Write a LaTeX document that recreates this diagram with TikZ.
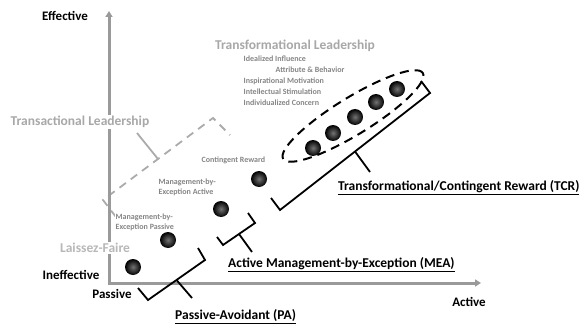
\documentclass[tikz,border=0pt]{standalone}
\usepackage{fontspec}
\setmainfont{Carlito}
\usetikzlibrary{arrows.meta,shapes.geometric}
\definecolor{axisgray}{HTML}{9A9A9A}
\definecolor{biggray}{HTML}{A8A8A8}
\definecolor{lightgray2}{HTML}{B8B8B8}
\definecolor{smallgray}{HTML}{858585}
\definecolor{dashgray}{HTML}{ABABAB}
\tikzset{
  axisline/.style={draw=axisgray, line width=3pt, -{Triangle[width=7pt,length=6pt]}},
  dot/.style={circle, minimum size=16pt, inner sep=0pt, inner color=black!55, outer color=black},
  bracketline/.style={draw=black, line width=1.8pt, line join=miter},
  graybracket/.style={draw=dashgray, line width=1.8pt, dash pattern=on 8pt off 6pt},
  axlabel/.style={font=\bfseries\fontsize{13}{15}\selectfont, text=black, inner sep=1pt},
  biglabel/.style={font=\bfseries\fontsize{13.5}{15}\selectfont, text=biggray, fill=white, inner sep=1pt},
  smalllabel/.style={font=\bfseries\fontsize{8}{10}\selectfont, text=smallgray, inner sep=0.5pt},
  grouplabel/.style={font=\bfseries\fontsize{13.5}{15}\selectfont, text=black, inner sep=1pt},
}
\begin{document}
\begin{tikzpicture}[x=1pt,y=-1pt]
\useasboundingbox (0,0) rectangle (580,326);

% gray dashed bracket (transactional)
\coordinate (gL) at (103,200);
\coordinate (gR) at (213,118);
\coordinate (gLt) at (116,217);
\coordinate (gRt) at (230,135);
\coordinate (gM) at (158,159);
\coordinate (gMt) at (137,133);
\draw[graybracket] (gLt) -- (gL) -- (gR) -- (gRt);
\draw[draw=dashgray, line width=1.8pt] (gM) -- (gMt);

% axes
\coordinate (origin) at (109,283);
\coordinate (ytip) at (109,11);
\coordinate (xtip) at (481,283);
\draw[axisline] (origin) -- (ytip);
\draw[axisline] ([xshift=-1.5pt]origin) -- (xtip);

% axis labels
\node[axlabel] (eff) at (65,16) {Effective};
\node[axlabel] (ineff) at (71,275) {Ineffective};
\node[axlabel] (pass) at (112,294) {Passive};
\node[axlabel] (act) at (469,302) {Active};

% gray category labels
\node[biglabel] (transl) at (80,122) {Transactional Leadership};
\node[biglabel, text=lightgray2] (laissez) at (95,248) {Laissez-Faire};
\node[biglabel] (transf) at (295,46) {Transformational Leadership};

\node[smalllabel, anchor=west] (ii) at (243,59) {Idealized Influence};
\node[smalllabel, anchor=west] (ab) at (275,70) {Attribute \& Behavior};
\node[smalllabel, anchor=west] (im) at (243,81) {Inspirational Motivation};
\node[smalllabel, anchor=west] (is) at (243,92) {Intellectual Stimulation};
\node[smalllabel, anchor=west] (ic) at (243,103) {Individualized Concern};

\node[smalllabel, anchor=west] (cr) at (201,160) {Contingent Reward};
\node[smalllabel, anchor=west, align=left, fill=white] (mea) at (158,187) {Management-by-\\Exception Active};
\node[smalllabel, anchor=west, align=left, fill=white] (mep) at (115,222) {Management-by-\\Exception Passive};

% dots
\node[dot] (d1) at (133,267) {};
\node[dot] (d2) at (168,240) {};
\node[dot] (d3) at (221,209) {};
\node[dot] (d4) at (259,179) {};
\node[dot] (t1) at (313,148) {};
\node[dot] (t2) at (333,133) {};
\node[dot] (t3) at (355,117) {};
\node[dot] (t4) at (376,102) {};
\node[dot] (t5) at (397,89) {};

% dashed ellipse
\node[ellipse, draw=black, line width=2pt, dash pattern=on 9pt off 6pt, rotate=31.6,
      minimum width=164pt, minimum height=37pt, inner sep=0pt] (ell) at (353,116) {};

% TCR bracket
\coordinate (tAt) at (271,198);
\coordinate (tA) at (280,210);
\coordinate (tB) at (430,93);
\coordinate (tBt) at (421,81);
\coordinate (tM) at (355,151.5);
\coordinate (tMt) at (370,172);
\draw[bracketline] (tAt) -- (tA) -- (tB) -- (tBt);
\draw[bracketline] (tM) -- (tMt);

% MEA bracket
\coordinate (mAt) at (217,237);
\coordinate (mA) at (223,245);
\coordinate (mB) at (255,223);
\coordinate (mBt) at (248,213);
\coordinate (mM) at (239,234);
\coordinate (mMt) at (252,252);
\draw[bracketline] (mAt) -- (mA) -- (mB) -- (mBt);
\draw[bracketline] (mM) -- (mMt);

% PA bracket
\coordinate (pAt) at (138,288);
\coordinate (pA) at (148,300);
\coordinate (pB) at (205,260);
\coordinate (pBt) at (198,248);
\coordinate (pM) at (176.5,280);
\coordinate (pMt) at (192,298);
\draw[bracketline] (pAt) -- (pA) -- (pB) -- (pBt);
\draw[bracketline] (pM) -- (pMt);

% group labels
\node[grouplabel, anchor=west] (tcr) at (337,188) {\underline{Transformational/Contingent Reward (TCR)}};
\node[grouplabel, anchor=west] (meal) at (227,265) {\underline{Active Management-by-Exception (MEA)}};
\node[grouplabel, anchor=west] (pal) at (174,317) {\underline{Passive-Avoidant (PA)}};
\end{tikzpicture}
\end{document}
